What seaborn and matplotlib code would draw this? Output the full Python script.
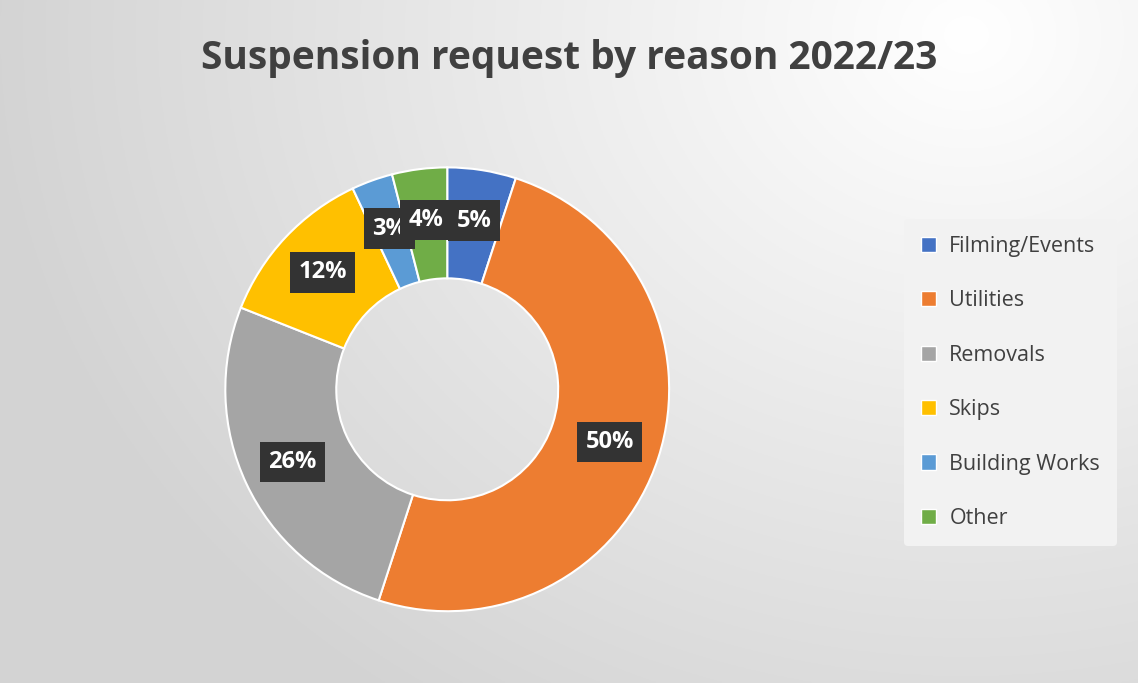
import numpy as np
import matplotlib.pyplot as plt
import seaborn as sns
from matplotlib.patches import Patch

reasons = ["Filming/Events", "Utilities", "Removals", "Skips", "Building Works", "Other"]
shares = [5, 50, 26, 12, 3, 4]
colors = ["#4472C4", "#ED7D31", "#A5A5A5", "#FFC000", "#5B9BD5", "#70AD47"]

sns.set_theme(style="white")
plt.rcParams['font.family'] = ['Open Sans', 'DejaVu Sans']

fig = plt.figure(figsize=(11.38, 6.83), dpi=100)

# radial grey background, lighter toward top right
bg = fig.add_axes([0, 0, 1, 1])
yy, xx = np.mgrid[0:1:300j, 0:1:500j]
d = np.sqrt(((xx - 0.85) * 1.4) ** 2 + (yy - 0.95) ** 2)
shade = 1.0 - 0.17 * np.clip(d / 1.2, 0, 1)
bg.imshow(np.dstack([shade] * 3), extent=[0, 1, 0, 1], origin="lower", aspect="auto")
bg.axis("off")

ax = fig.add_axes([0.393 - 0.195, 0.43 - 0.325, 0.39, 0.65])
wedges, texts, autotexts = ax.pie(
    shares, colors=colors, startangle=90, counterclock=False,
    autopct=lambda p: f"{p:.0f}%", pctdistance=0.77,
    wedgeprops=dict(width=0.5, edgecolor="white", linewidth=1.5),
)
for t in autotexts:
    t.set_color("white")
    t.set_fontsize(17)
    t.set_fontweight("bold")
    t.set_bbox(dict(boxstyle="square,pad=0.35", facecolor="#333333", edgecolor="none"))
ax.set_xlim(-1.0, 1.0)
ax.set_ylim(-1.0, 1.0)
ax.set_aspect("equal")

fig.text(0.5, 0.915, "Suspension request by reason 2022/23", ha="center", va="center",
         fontsize=28, fontweight="bold", color="#404040")

handles = [Patch(facecolor=c) for c in colors]
leg = fig.legend(handles, reasons, loc="center left", bbox_to_anchor=(0.785, 0.44),
                 fontsize=15.5, frameon=True, handlelength=0.7, handleheight=0.7,
                 handletextpad=0.6, labelspacing=1.55, labelcolor="#404040", borderpad=0.8)
leg.get_frame().set_facecolor("#F2F2F2")
leg.get_frame().set_edgecolor("none")
leg.get_frame().set_alpha(1)

fig.savefig("out.png", dpi=100)
